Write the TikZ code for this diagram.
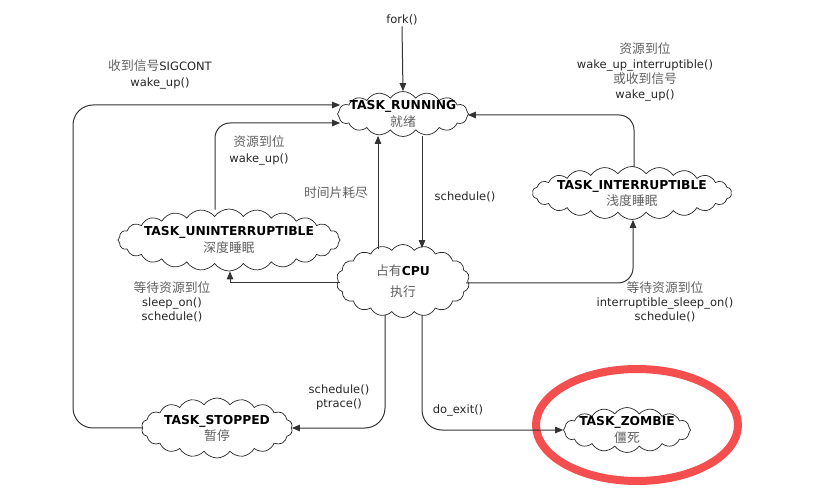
\documentclass[tikz,border=0pt]{standalone}
\usepackage{fontspec}
\setmainfont{DejaVu Sans}
\newfontfamily\cjk{Noto Sans CJK SC}
\usetikzlibrary{shapes.symbols,arrows.meta}
\newcommand{\zh}[1]{{\cjk\fontsize{12.8}{16}\selectfont\color{black!62}#1}}
\newcommand{\bt}[1]{{\fontsize{12.3}{16}\selectfont\bfseries #1}}
\definecolor{ringred}{RGB}{245,78,78}
\begin{document}
\begin{tikzpicture}[x=1pt,y=-1pt,
  font=\fontsize{11.5}{16}\selectfont,
  state/.style={cloud, cloud ignores aspect, cloud puff arc=110, draw=black!85,
    line width=0.7pt, fill=white, inner sep=0pt},
  txt/.style={align=center, inner sep=0pt, text=black},
  lbl/.style={align=center, inner sep=1pt, text=black!85},
  arr/.style={-{Triangle[length=8pt,width=6.5pt]}, line width=1pt, draw=black!80}]
\useasboundingbox (0,0) rectangle (831,489);
% red highlight ring
\draw[ringred, line width=8pt] (637,425) ellipse [x radius=101, y radius=56];
% states
\node[state, cloud puffs=16, minimum width=131pt, minimum height=45pt,
  label={[txt]center:\bt{TASK\_RUNNING}\\[1pt]\zh{就绪}}] (running) at (403,114) {};
\node[state, cloud puffs=24, minimum width=222pt, minimum height=62pt,
  label={[txt]center:\bt{TASK\_UNINTERRUPTIBLE}\\[1pt]\zh{深度睡眠}}] (unint) at (229,240) {};
\node[state, cloud puffs=22, minimum width=199pt, minimum height=53pt,
  label={[txt]center:\bt{TASK\_INTERRUPTIBLE}\\[0pt]\zh{浅度睡眠}}] (int) at (632,193) {};
\node[state, cloud puffs=18, minimum width=133pt, minimum height=73pt,
  label={[txt]center:\zh{占有}\bt{CPU}\\[5pt]\zh{执行}}] (cpu) at (403,281) {};
\node[state, cloud puffs=18, minimum width=151pt, minimum height=60pt,
  label={[txt]center:\bt{TASK\_STOPPED}\\[0pt]\zh{暂停}}] (stopped) at (217,428) {};
\node[state, cloud puffs=16, minimum width=127pt, minimum height=45pt,
  label={[txt]center:\bt{TASK\_ZOMBIE}\\[1pt]\zh{僵死}}] (zombie) at (627,430) {};
% labels
\node[lbl] (fork) at (402,20) {fork()};
\node[lbl] (l1) at (160,74) {\zh{收到信号}SIGCONT\\wake\_up()};
\node[lbl] (l2) at (259,150) {\zh{资源到位}\\wake\_up()};
\node[lbl] (l3) at (645,72) {\zh{资源到位}\\[-1pt]wake\_up\_interruptible()\\[-1pt]\zh{或收到信号}\\[-1pt]wake\_up()};
\node[lbl] (l4) at (336,193) {\zh{时间片耗尽}};
\node[lbl] (l5) at (465,197) {schedule()};
\node[lbl] (l6) at (172,302) {\zh{等待资源到位}\\[-2pt]sleep\_on()\\[-2pt]schedule()};
\node[lbl] (l7) at (665,302) {\zh{等待资源到位}\\[-2pt]interruptible\_sleep\_on()\\[-2pt]schedule()};
\node[lbl] (l8) at (339,397) {schedule()\\[-2pt]ptrace()};
\node[lbl] (l9) at (458,410) {do\_exit()};
% connectors
\draw[arr] (fork.south) -- (running.north);
\draw[arr, rounded corners=20pt] (stopped.west) -| (73,105) -- ([xshift=3pt,yshift=9pt]running.west);
\draw[arr, rounded corners=15pt] ([xshift=-14pt,yshift=-1pt]unint.north) |- ([xshift=3pt,yshift=-9pt]running.west);
\draw[arr, rounded corners=15pt] ([xshift=2pt,yshift=-1pt]int.north) |- ([xshift=-1pt,yshift=-1pt]running.east);
\draw[arr] ([xshift=-25pt,yshift=-5pt]cpu.north) -- ([xshift=-25pt,yshift=1pt]running.south);
\draw[arr] ([xshift=19pt,yshift=1pt]running.south) -- ([xshift=19pt,yshift=-4pt]cpu.north);
\draw[arr] ([xshift=2pt,yshift=-2pt]cpu.west) -| ([xshift=1pt]unint.south);
\draw[arr, rounded corners=15pt] ([xshift=-2pt,yshift=-2pt]cpu.east) -| ([xshift=1pt]int.south);
\draw[arr, rounded corners=20pt] ([xshift=-18pt,yshift=3pt]cpu.south) |- (stopped.east);
\draw[arr, rounded corners=20pt] ([xshift=19pt,yshift=3pt]cpu.south) |- (zombie.west);
\end{tikzpicture}
\end{document}
